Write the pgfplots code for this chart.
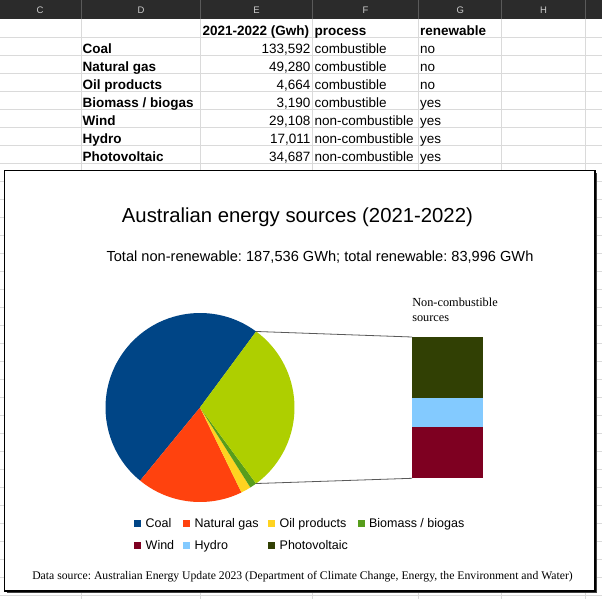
\documentclass[border=0pt]{standalone}
\usepackage{pgfplots}
\usepackage{pgfplotstable}
\pgfplotsset{compat=1.18}
\usepackage{fontspec}
\setmainfont{Liberation Sans}
\newfontfamily\serif{Liberation Serif}
\frenchspacing

\definecolor{coal}{HTML}{004586}
\definecolor{gas}{HTML}{FF420E}
\definecolor{oil}{HTML}{FFD320}
\definecolor{bio}{HTML}{579D1C}
\definecolor{wind}{HTML}{7E0021}
\definecolor{hydro}{HTML}{83CAFF}
\definecolor{pv}{HTML}{314004}
\definecolor{other}{HTML}{AECF00}
\definecolor{hdr}{HTML}{2B2B2B}
\definecolor{hdrsep}{HTML}{5A5A5A}
\definecolor{grid}{HTML}{DADADA}

% energy by source, GWh, 2021-2022
\pgfplotstableread[col sep=comma]{
source,gwh,noncomb
Coal,133592,0
Natural gas,49280,0
Oil products,4664,0
Biomass / biogas,3190,0
Wind,29108,1
Hydro,17011,1
Photovoltaic,34687,1
}\energy

\newcommand\fs[1]{\fontsize{#1}{#1}\selectfont}
\newcommand\getv[2]{\pgfplotstablegetelem{#1}{gwh}\of\energy\edef#2{\pgfplotsretval}}
\newcommand\srow[5]{%
  \node[anchor=base west,font=\bfseries\fs{13.5}] at (82.7,#1) {#2};
  \node[anchor=base east,font=\fs{13.5}] at (310.5,#1) {#3};
  \node[anchor=base west,font=\fs{13.5}] at (314.6,#1) {#4};
  \node[anchor=base west,font=\fs{13.5}] at (420,#1) {#5};}
\newcommand\leg[4]{%
  \fill[#1] (#2,{#4-3.5}) rectangle ({#2+7},{#4+3.5});
  \node[anchor=base west,font=\fs{12.5}] at ({#2+11.4},{#4+4.5}) {#3};}

\begin{document}
\begin{tikzpicture}[x=1pt,y=-1pt,every node/.style={inner sep=0pt,outer sep=0pt}]
\getv{0}\vCoal \getv{1}\vGas \getv{2}\vOil \getv{3}\vBio
\getv{4}\vWind \getv{5}\vHydro \getv{6}\vPV
\edef\vOther{\fpeval{\vWind+\vHydro+\vPV}}
\edef\vTot{\fpeval{\vCoal+\vGas+\vOil+\vBio+\vOther}}
\edef\aA{\fpeval{round(180*\vOther/\vTot,4)}}
\edef\aB{\fpeval{round(\aA+360*\vCoal/\vTot,4)}}
\edef\aC{\fpeval{round(\aB+360*\vGas/\vTot,4)}}
\edef\aD{\fpeval{round(\aC+360*\vOil/\vTot,4)}}
\edef\aE{\fpeval{round(\aD+360*\vBio/\vTot,4)}}
\edef\aF{\fpeval{round(360+\aA,4)}}

% spreadsheet behind the chart
\fill[white] (0,0) rectangle (602,599);
\foreach \y in {37.3,55.3,...,599} \draw[grid,line width=0.8pt] (0,\y) -- (602,\y);
\foreach \x in {81.3,200.7,312.5,418.7,501.7,585.3} \draw[grid,line width=0.8pt] (\x,19) -- (\x,599);
\fill[hdr] (0,0) rectangle (602,19);
\foreach \x in {81.3,200.7,312.5,418.7,501.7,585.3} \draw[hdrsep,line width=0.8pt] (\x,0) -- (\x,19);
\foreach \x/\c in {40/C,141/D,256.6/E,365.6/F,460.2/G,543.5/H}
  \node[anchor=base,font=\fs{9.5},text=black!20] at (\x,13.3) {\c};

\node[anchor=base west,font=\bfseries\fs{13.5}] at (202.7,35.1) {2021-2022 (Gwh)};
\node[anchor=base west,font=\bfseries\fs{13.5}] at (314.6,35.1) {process};
\node[anchor=base west,font=\bfseries\fs{13.5}] at (420,35.1) {renewable};
\srow{53.1}{Coal}{133,592}{combustible}{no}
\srow{71.1}{Natural gas}{49,280}{combustible}{no}
\srow{89.1}{Oil products}{4,664}{combustible}{no}
\srow{107.1}{Biomass / biogas}{3,190}{combustible}{yes}
\srow{125.1}{Wind}{29,108}{non-combustible}{yes}
\srow{143.1}{Hydro}{17,011}{non-combustible}{yes}
\srow{161.1}{Photovoltaic}{34,687}{non-combustible}{yes}

% chart frame
\fill[black!75] (6.5,172.5) rectangle (597,593);
\filldraw[fill=white,draw=black,line width=1.2pt] (4.5,170.5) rectangle (595,591);

\node[anchor=base,font=\fs{20.3}] at (297.4,222) {Australian energy sources (2021-2022)};
\node[anchor=base,font=\fs{14.6}] at (320,261) {Total non-renewable: 187,536 GWh; total renewable: 83,996 GWh};

% pie of combustible sources plus the non-combustible share
\begin{axis}[hide axis, scale only axis, width=189pt, height=189pt,
  xmin=-1, xmax=1, ymin=-1, ymax=1, clip=false,
  at={(200pt,-407.5pt)}, anchor=center]
  \fill[coal] (axis cs:0,0) -- (axis cs:{cos(\aA)},{sin(\aA)}) arc[start angle=\aA, end angle=\aB, radius=94.5pt] -- cycle;
  \fill[gas] (axis cs:0,0) -- (axis cs:{cos(\aB)},{sin(\aB)}) arc[start angle=\aB, end angle=\aC, radius=94.5pt] -- cycle;
  \fill[oil] (axis cs:0,0) -- (axis cs:{cos(\aC)},{sin(\aC)}) arc[start angle=\aC, end angle=\aD, radius=94.5pt] -- cycle;
  \fill[bio] (axis cs:0,0) -- (axis cs:{cos(\aD)},{sin(\aD)}) arc[start angle=\aD, end angle=\aE, radius=94.5pt] -- cycle;
  \fill[other] (axis cs:0,0) -- (axis cs:{cos(\aE)},{sin(\aE)}) arc[start angle=\aE, end angle=\aF, radius=94.5pt] -- cycle;
  \coordinate (p1) at (axis cs:{cos(\aA)},{sin(\aA)});
  \coordinate (p2) at (axis cs:{cos(\aE)},{sin(\aE)});
\end{axis}

% stacked bar of the non-combustible sources
\begin{axis}[hide axis, scale only axis, ybar stacked, width=71pt, height=141.3pt,
  xmin=-0.5, xmax=0.5, ymin=0, ymax=80806, bar width=71pt, clip=false,
  at={(412pt,-478.3pt)}, anchor=south west]
  \addplot[fill=wind, draw=none] table[x expr=0, y=gwh, restrict expr to domain={\coordindex}{4:4}] {\energy};
  \addplot[fill=hydro, draw=none] table[x expr=0, y=gwh, restrict expr to domain={\coordindex}{5:5}] {\energy};
  \addplot[fill=pv, draw=none] table[x expr=0, y=gwh, restrict expr to domain={\coordindex}{6:6}] {\energy};
  \coordinate (b1) at (rel axis cs:0,1);
  \coordinate (b2) at (rel axis cs:0,0);
\end{axis}
\draw[black!65,line width=0.8pt] (p1) -- (b1) (p2) -- (b2);

\node[anchor=base west,font=\serif\fs{12.3}] at (412.3,306.5) {Non-combustible};
\node[anchor=base west,font=\serif\fs{12.3}] at (412.3,321) {sources};

% legend
\leg{coal}{134.3}{Coal}{523.3}
\leg{gas}{183.3}{Natural gas}{523.3}
\leg{oil}{268.3}{Oil products}{523.3}
\leg{bio}{357.7}{Biomass / biogas}{523.3}
\leg{wind}{134.3}{Wind}{545}
\leg{hydro}{183.3}{Hydro}{545}
\leg{pv}{268.3}{Photovoltaic}{545}

\node[anchor=base west,font=\serif\fs{11.7}] at (32.3,579.5) {Data source: Australian Energy Update 2023 (Department of Climate Change, Energy, the Environment and Water)};

\pgfresetboundingbox
\path[use as bounding box] (0,0) rectangle (602,599);
\end{tikzpicture}
\end{document}
